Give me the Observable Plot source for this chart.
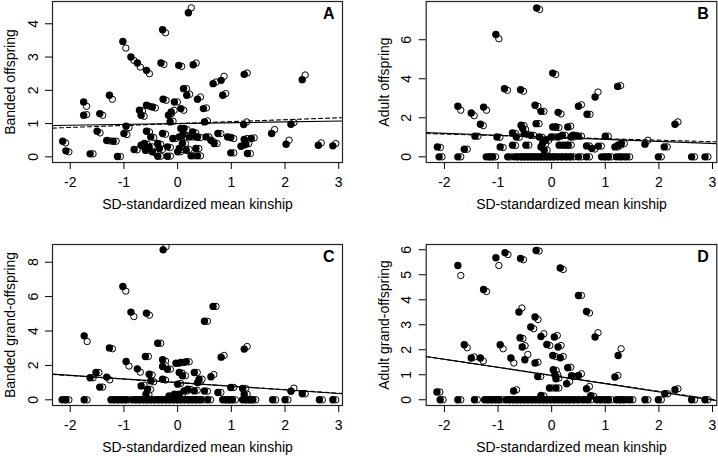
<!DOCTYPE html>
<html><head><meta charset="utf-8">
<script src="https://cdn.jsdelivr.net/npm/d3@7"></script>
<script src="https://cdn.jsdelivr.net/npm/@observablehq/plot@0.6"></script>
<style>
body{margin:0;background:#fff;}
#chart{position:relative;width:718px;height:456px;background:#fff;overflow:hidden;}
.panel{position:absolute;}
</style></head><body><div id="chart"></div>
<script>
// ---------- data ----------
const xTitle = "SD-standardized mean kinship";
const panelLetters = ["A", "B", "C", "D"];
const yTitles = ["Banded offspring", "Adult offspring", "Banded grand-offspring", "Adult grand-offspring"];
const xTicks = [-2, -1, 0, 1, 2, 3];
const yTicksA = [0, 1, 2, 3, 4];
const yTicksB = [0, 2, 4, 6];
const yTicksC = [0, 2, 4, 6, 8];
const yTicksD = [0, 1, 2, 3, 4, 5, 6];
const openShift = 0.055; // open circle = second estimate, drawn just right of the filled one

// [kinship, filled value, open value]
const bandedOffspring = [
[-2.14,0.47,0.42],[-2.08,0.18,0.15],[-1.75,1.65,1.52],[-1.75,1.25,1.27],[-1.63,0.09,0.09],[-1.5,0.77,0.72],[-1.45,1.3,1.25],[-1.32,0.49,0.48],[-1.27,1.85,1.73],[-1.2,0.47,0.47],[-1.12,0.01,0.01],[-1.02,3.47,3.27],[-1.0,0.7,0.67],[-0.96,0.92,0.88],[-0.87,3.0,2.9],[-0.81,0.22,0.21],[-0.75,2.82,2.7],[-0.71,1.4,1.38],[-0.68,1.25,1.22],[-0.68,0.35,0.3],[-0.62,0.4,0.38],[-0.6,0.2,0.2],[-0.58,2.6,2.5],[-0.58,1.55,1.52],[-0.58,0.77,0.75],[-0.53,0.3,0.3],[-0.5,0.6,0.58],[-0.47,1.5,1.47],[-0.47,0.15,0.12],[-0.37,0.4,0.38],[-0.37,0.02,0.02],[-0.34,0.25,0.22],[-0.31,2.82,2.78],[-0.28,3.82,3.73],[-0.28,0.7,0.68],[-0.27,1.73,1.7],[-0.19,0.3,0.28],[-0.19,0.02,0.02],[-0.17,1.25,1.3],[-0.14,1.05,1.07],[-0.12,1.35,1.4],[-0.09,0.55,0.55],[-0.06,1.65,1.65],[0,0.15,0.15],[0.02,2.75,2.72],[0.03,0.25,0.22],[0.03,0.6,0.6],[0.06,1.45,1.4],[0.06,0.85,0.82],[0.09,0.4,0.4],[0.09,0.65,0.62],[0.11,2.05,2.05],[0.12,0.85,0.82],[0.16,0.2,0.22],[0.17,1.85,1.88],[0.2,4.33,4.48],[0.22,0.6,0.6],[0.25,0.03,0.03],[0.28,0.75,0.72],[0.29,2.77,2.82],[0.34,0.6,0.58],[0.34,0.25,0.25],[0.37,1.73,1.8],[0.37,0.03,0.03],[0.37,0.6,0.58],[0.48,1.45,1.47],[0.5,1.05,1.08],[0.53,0.6,0.6],[0.62,0.5,0.45],[0.66,2.2,2.25],[0.68,0.4,0.4],[0.75,0.7,0.7],[0.81,2.3,2.42],[0.84,1.85,1.9],[0.93,0.6,0.58],[0.99,0.58,0.55],[0.99,0.12,0.12],[1.18,0.32,0.35],[1.23,0.97,1.05],[1.24,2.48,2.52],[1.24,0.52,0.55],[1.27,0.38,0.4],[1.3,0.1,0.1],[1.37,0.55,0.57],[1.75,0.7,0.82],[2.02,0.38,0.5],[2.11,0.98,1.03],[2.32,2.32,2.46],[2.62,0.35,0.42],[2.89,0.33,0.4]
];
const adultOffspring = [
[-0.28,7.63,7.55],[-1.04,6.27,6.05],[0.02,4.29,4.22],[-0.88,3.49,3.41],[-0.58,3.44,3.36],[-1.75,2.59,2.39],[-1.5,2.25,2.11],[-1.27,2.55,2.39],[-1.33,1.67,1.6],[-0.31,2.64,2.59],[-0.2,2.33,2.33],[-0.29,1.7,1.7],[0.5,2.59,2.67],[0.12,2.28,2.2],[0.66,2.18,2.18],[0.81,3.07,3.32],[1.23,3.61,3.65],[2.3,1.67,1.79],[1.74,0.65,0.85],[2.1,0.51,0.51],[-2.13,0.51,0.48],[-1.63,0.39,0.39],[-1.43,1.06,1.06],[-1.02,1.02,1.0],[-0.96,0.51,0.48],[-0.73,1.23,1.2],[-0.73,0.6,0.58],[-0.66,1.02,1.0],[-0.57,1.62,1.6],[-0.54,1.45,1.4],[-0.51,1.19,1.15],[-0.48,0.6,0.6],[-0.39,1.11,1.1],[-0.23,1.02,1.0],[-0.2,0.51,0.48],[-0.17,0.68,0.65],[-0.14,0.34,0.34],[-0.11,0.85,0.85],[-0.01,1.02,1.02],[0.02,1.53,1.53],[0.08,1.53,1.5],[0.11,1.02,1.05],[0.14,0.6,0.6],[0.2,1.11,1.1],[0.24,0.6,0.6],[0.3,1.53,1.57],[0.36,1.02,1.02],[0.4,1.11,1.1],[0.5,1.06,1.06],[0.31,0.6,0.6],[1.0,1.06,1.06],[0.65,0.56,0.56],[0.75,0.43,0.4],[0.87,0.55,0.55],[1.18,0.51,0.51],[1.24,0.6,0.6],[1.3,0.68,0.68]
];
const adultOffspringZeros = [-2.1,-1.75,-1.22,-1.16,-1.1,-0.82,-0.7,-0.63,-0.56,-0.5,-0.44,-0.38,-0.32,-0.26,-0.2,-0.14,-0.08,-0.02,0.04,0.12,0.2,0.28,0.36,0.5,0.65,0.93,1.0,1.06,1.21,1.3,1.4,1.99,2.61,2.86];
const bandedGrandOffspring = [
[-0.27,8.72,8.91],[-1.02,6.59,6.32],[-0.87,5.1,4.84],[-0.58,5.04,4.92],[0.5,4.57,4.57],[0.66,5.43,5.43],[-1.74,3.72,3.39],[-1.27,3.02,2.97],[-0.37,3.29,3.29],[-0.6,2.52,2.52],[0.81,2.48,2.58],[1.24,2.95,3.1],[-0.96,2.23,1.96],[-0.75,1.8,1.61],[-1.52,1.59,1.59],[-1.63,1.28,1.28],[-1.32,1.32,1.16],[-1.45,0.74,0.74],[-0.53,1.49,1.45],[-0.68,0.81,0.85],[-0.56,0.62,0.6],[-0.59,0.33,0.3],[-0.28,2.33,2.25],[-0.28,1.94,1.98],[-0.19,1.78,1.78],[-0.03,2.13,2.13],[0.06,2.17,2.17],[0.16,2.21,2.21],[-0.28,1.2,1.15],[0.03,1.59,1.55],[0.09,1.4,1.4],[0,0.91,0.95],[0.31,1.59,1.59],[0.12,0.52,0.52],[0.19,0.62,0.6],[0.31,0.52,0.55],[0.37,1.0,1.05],[0.03,0.33,0.3],[-0.5,1.1,1.05],[-0.16,0.23,0.2],[-0.06,0.33,0.3],[0.4,1.2,1.2],[0.62,1.34,1.47],[0.5,0.52,0.5],[0.75,0.43,0.43],[0.99,0.72,0.72],[1.21,0.66,0.66],[1.24,0.33,0.33],[2.11,0.5,0.68],[2.32,0.35,0.35]
];
const bandedGrandOffspringZeros = [-2.15,-2.08,-1.74,-1.24,-1.17,-1.1,-1.03,-0.96,-0.84,-0.77,-0.7,-0.63,-0.56,-0.49,-0.42,-0.35,-0.28,-0.21,-0.14,-0.07,0,0.07,0.14,0.21,0.28,0.35,0.43,0.56,0.84,0.9,0.96,1.02,1.21,1.28,1.34,1.4,1.77,2.0,2.64,2.89];
const adultGrandOffspring = [
[-0.29,5.97,5.95],[-0.87,5.88,5.81],[-1.04,5.68,5.37],[-1.75,5.37,4.97],[-0.58,5.65,5.6],[0.16,5.27,5.21],[-1.27,4.41,4.33],[0.5,4.17,4.17],[0.65,3.53,3.47],[-0.61,3.51,3.67],[-0.31,3.31,3.21],[-0.39,2.91,2.84],[-0.2,2.53,2.64],[-0.59,2.48,2.45],[-0.55,2.11,2.16],[-0.5,1.6,1.81],[-0.31,1.47,1.5],[-0.09,2.21,2.17],[0.05,2.51,2.57],[0.12,2.11,2.17],[0.02,1.77,1.73],[0.16,1.68,1.73],[0.03,1.2,1.17],[0.06,1.0,1.0],[0.08,0.84,0.87],[0.3,1.28,1.3],[0.37,0.96,0.93],[0.5,0.97,1.04],[0.28,0.64,0.73],[-0.04,0.47,0.47],[0.08,0.47,0.47],[-0.2,0.17,0.15],[0.65,0.44,0.53],[0.73,0.16,0.14],[1.18,0.91,0.97],[1.24,1.77,2.04],[0.81,2.51,2.68],[-1.63,2.2,2.08],[-1.5,1.67,1.71],[-1.33,1.67,1.55],[-0.96,2.2,2.04],[-0.76,1.67,1.47],[-0.71,0.35,0.4],[-2.14,0.31,0.31],[2.11,0.24,0.24],[2.3,0.4,0.44],[-0.26,0.93,0.93]
];
const adultGrandOffspringZeros = [-2.08,-1.75,-1.44,-1.25,-1.18,-1.11,-1.04,-0.98,-0.85,-0.78,-0.71,-0.64,-0.57,-0.5,-0.43,-0.36,-0.29,-0.22,-0.15,-0.08,-0.01,0.06,0.13,0.2,0.27,0.34,0.42,0.5,0.6,0.68,0.84,0.92,1.0,1.06,1.21,1.28,1.35,1.46,1.74,1.99,2.61,2.86];

// regression fits [intercept, slope]
const fitSolidA = [1.0, 0.025],  fitDashedA = [1.0, 0.058];
const fitSolidB = [1.0, -0.104], fitDashedB = [1.01, -0.078];
const fitSolidC = [1.0, -0.211], fitDashedC = [1.0, -0.205];
const fitSolidD = [0.97, -0.326], fitDashedD = [0.975, -0.32];

// ---------- layout ----------
const font = '"Liberation Sans", Arial, Helvetica, sans-serif';
const panels = [
  {rows: bandedOffspring, zeros: [], yTicks: yTicksA, xDom: [-2.33, 3.07], yDom: [-0.17, 4.67], solid: fitSolidA, dashed: fitDashedA,
   left: 0, top: 0, ml: 52, mr: 17, mt: 1, mb: 66},
  {rows: adultOffspring, zeros: adultOffspringZeros, yTicks: yTicksB, xDom: [-2.34, 3.08], yDom: [-0.29, 7.96], solid: fitSolidB, dashed: fitDashedB,
   left: 359, top: 0, ml: 66.7, mr: 1.7, mt: 1, mb: 66},
  {rows: bandedGrandOffspring, zeros: bandedGrandOffspringZeros, yTicks: yTicksC, xDom: [-2.33, 3.07], yDom: [-0.33, 9.03], solid: fitSolidC, dashed: fitDashedC,
   left: 0, top: 228, ml: 52, mr: 17, mt: 16, mb: 51},
  {rows: adultGrandOffspring, zeros: adultGrandOffspringZeros, yTicks: yTicksD, xDom: [-2.34, 3.08], yDom: [-0.23, 6.21], solid: fitSolidD, dashed: fitDashedD,
   left: 359, top: 228, ml: 66.7, mr: 1.7, mt: 16, mb: 51}
];

function pairTable(rows, zeros) {
  return rows.concat(zeros.map(x => [x, 0, 0])).sort((a, b) => a[0] - b[0])
    .map(([x, yf, yo]) => ({x, yf, xo: x + openShift, yo}));
}
const fitLine = (coef, dom) => dom.map(x => ({x, y: coef[0] + coef[1] * x}));

const chart = document.getElementById("chart");
panels.forEach((p, i) => {
  const pts = pairTable(p.rows, p.zeros);
  const svg = Plot.plot({
    width: 359, height: 228,
    marginLeft: p.ml, marginRight: p.mr, marginTop: p.mt, marginBottom: p.mb,
    style: {fontFamily: font, fontSize: "14px", background: "white", color: "black", overflow: "visible"},
    x: {domain: p.xDom},
    y: {domain: p.yDom},
    marks: [
      Plot.dot(pts, {x: "xo", y: "yo", fill: "white", stroke: "black", r: 3.2, strokeWidth: 1, clip: true}),
      Plot.dot(pts, {x: "x", y: "yf", fill: "black", stroke: "none", r: 3.7, clip: true}),
      Plot.line(fitLine(p.solid, p.xDom), {x: "x", y: "y", stroke: "black", strokeWidth: 1.1, clip: true}),
      Plot.line(fitLine(p.dashed, p.xDom), {x: "x", y: "y", stroke: "black", strokeWidth: 1.1, strokeDasharray: "4,3", clip: true}),
      Plot.frame({stroke: "#222", strokeWidth: 1.2}),
      Plot.axisX({ticks: xTicks, tickSize: 7, tickPadding: 8, tickFormat: d => String(d), label: null, fontSize: 14}),
      Plot.axisY({ticks: p.yTicks, tickSize: 7, tickPadding: 8, tickRotate: -90, tickFormat: d => String(d), label: null, fontSize: 14}),
      Plot.text([xTitle], {frameAnchor: "bottom", dy: 42, lineAnchor: "middle", textAnchor: "middle", text: d => d, fontSize: 14}),
      Plot.text([yTitles[i]], {frameAnchor: "left", dx: -42, rotate: -90, textAnchor: "middle", lineAnchor: "middle", text: d => d, fontSize: 14}),
      Plot.text([panelLetters[i]], {frameAnchor: "top-right", dx: -8, dy: 6, textAnchor: "end", lineAnchor: "top", text: d => d, fontSize: 16, fontWeight: "bold"})
    ]
  });
  const wrap = document.createElement("div");
  wrap.className = "panel";
  wrap.style.left = p.left + "px";
  wrap.style.top = p.top + "px";
  wrap.appendChild(svg);
  chart.appendChild(wrap);
});
</script></body></html>
